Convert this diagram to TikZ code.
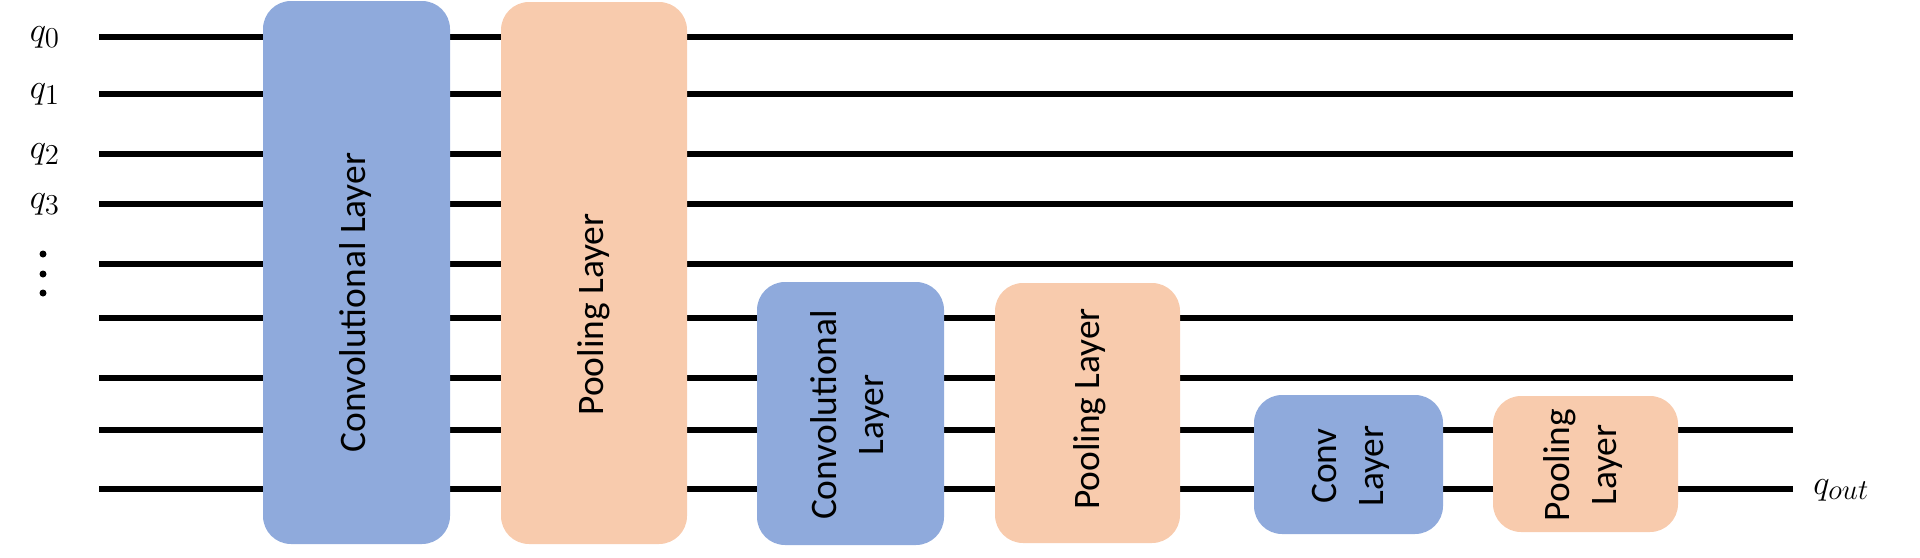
\documentclass[tikz,border=0pt]{standalone}
\usepackage{fontspec}
\setsansfont{Carlito}
\definecolor{convblue}{HTML}{8FAADC}
\definecolor{poolorange}{HTML}{F8CBAD}
\begin{document}
\begin{tikzpicture}[x=0.5pt,y=-0.5pt,
  wire/.style={line width=2.75pt},
  layerbox/.style={rounded corners=14pt, inner sep=0pt, draw=none},
  conv/.style={layerbox, fill=convblue},
  pool/.style={layerbox, fill=poolorange},
  lbl/.style={font=\sffamily\fontsize{18.7}{23.5}\selectfont, rotate=90, align=center, inner sep=0pt},
  qlbl/.style={font=\fontsize{19}{22}\selectfont, inner sep=0pt},
  dot/.style={circle, fill=black, inner sep=0pt, minimum size=3.5pt}]
\useasboundingbox (0,0) rectangle (1920,557);

% wires
\foreach \i/\y in {0/37,1/94,2/154,3/204,4/264,5/318,6/378,7/430,8/489}{
  \coordinate (ws\i) at (99,\y);
  \coordinate (we\i) at (1793,\y);
  \draw[wire] (ws\i) -- (we\i);
}

% qubit labels
\node[qlbl] (q0) at (45,37) {$q_0$};
\node[qlbl] (q1) at (45,94) {$q_1$};
\node[qlbl] (q2) at (45,154) {$q_2$};
\node[qlbl] (q3) at (45,204) {$q_3$};
\node[dot] (d1) at (43,254) {};
\node[dot] (d2) at (43,274) {};
\node[dot] (d3) at (43,293) {};
\node[qlbl, anchor=west] (qout) at (1813,490) {$q_{out}$};

% layer boxes
\node[conv, minimum width=93.5pt, minimum height=271.5pt] (c1) at (356.5,272.5) {};
\node[pool, minimum width=93pt, minimum height=271pt] (p1) at (594,273) {};
\node[conv, minimum width=93.5pt, minimum height=131.5pt] (c2) at (850.5,413.5) {};
\node[pool, minimum width=92.5pt, minimum height=130pt] (p2) at (1087.5,413) {};
\node[conv, minimum width=94.5pt, minimum height=69.5pt] (c3) at (1348.5,464.5) {};
\node[pool, minimum width=92.5pt, minimum height=68pt] (p3) at (1585.5,464) {};

% texts
\node[lbl] (t1) at (356,302.5) {Convolutional Layer};
\node[lbl] (t2) at (594,314.5) {Pooling Layer};
\node[lbl] (t3) at (850,415) {Convolutional\\Layer};
\node[lbl] (t4) at (1090,409) {Pooling Layer};
\node[lbl] (t5) at (1351,466) {Conv\\Layer};
\node[lbl] (t6) at (1583,465) {Pooling\\Layer};
\end{tikzpicture}
\end{document}
